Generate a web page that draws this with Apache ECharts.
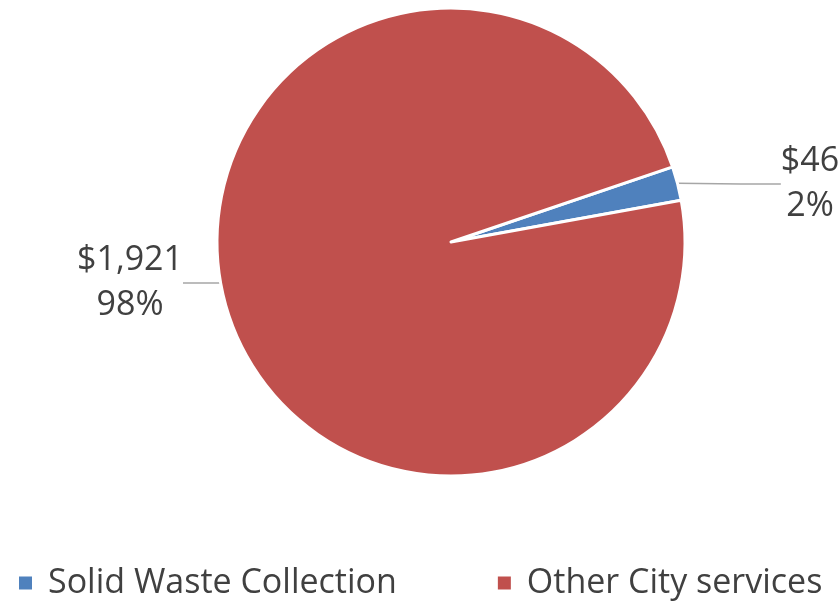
<!DOCTYPE html>
<html>
<head>
<meta charset="utf-8">
<script src="https://cdn.jsdelivr.net/npm/echarts@6/dist/echarts.min.js"></script>
<style>
  html, body { margin: 0; padding: 0; background: #fff; }
  #main { width: 840px; height: 603px; }
</style>
</head>
<body>
<div id="main"></div>
<script>
// 数据
const categories = ['Solid Waste Collection', 'Other City services']
const values = [46, 1921]
const colors = ['#4f81bd', '#c0504d']

const chart = echarts.init(document.getElementById('main'))
const total = values.reduce((s, v) => s + v, 0)
// first slice ends at ~10.3deg, starts at 10.3 + its share of 360
const startAngle = 10.3 + values[0] / total * 360

const option = {
  backgroundColor: '#ffffff',
  color: colors,
  textStyle: { fontFamily: 'Open Sans' },
  legend: {
    bottom: -2,
    left: 12,
    itemWidth: 15,
    itemHeight: 15,
    itemGap: 99,
    icon: 'rect',
    textStyle: { fontSize: 34, color: '#404040', fontFamily: 'Open Sans', padding: [0, 0, 0, 10] },
    data: categories
  },
  series: [{
    type: 'pie',
    center: [451, 242],
    radius: 234,
    startAngle: startAngle,
    clockwise: true,
    avoidLabelOverlap: false,
    itemStyle: { borderColor: '#fff', borderWidth: 3 },
    label: {
      show: true,
      position: 'outside',
      fontSize: 34,
      lineHeight: 45,
      color: '#404040',
      align: 'center',
      formatter: function (p) {
        return '$' + p.value.toLocaleString('en-US') + '\n' + Math.round(p.percent) + '%'
      }
    },
    labelLine: {
      show: true,
      length: 40,
      length2: 40,
      lineStyle: { color: '#a6a6a6', width: 1.5 }
    },
    labelLayout: function (params) {
      if (params.dataIndex === 0) {
        return { x: 810, y: 184, align: 'center', verticalAlign: 'middle' }
      }
      return { x: 130, y: 283, align: 'center', verticalAlign: 'middle' }
    },
    data: categories.map((name, i) => ({ name: name, value: values[i] }))
  }]
}
chart.setOption(option)
</script>
</body>
</html>
